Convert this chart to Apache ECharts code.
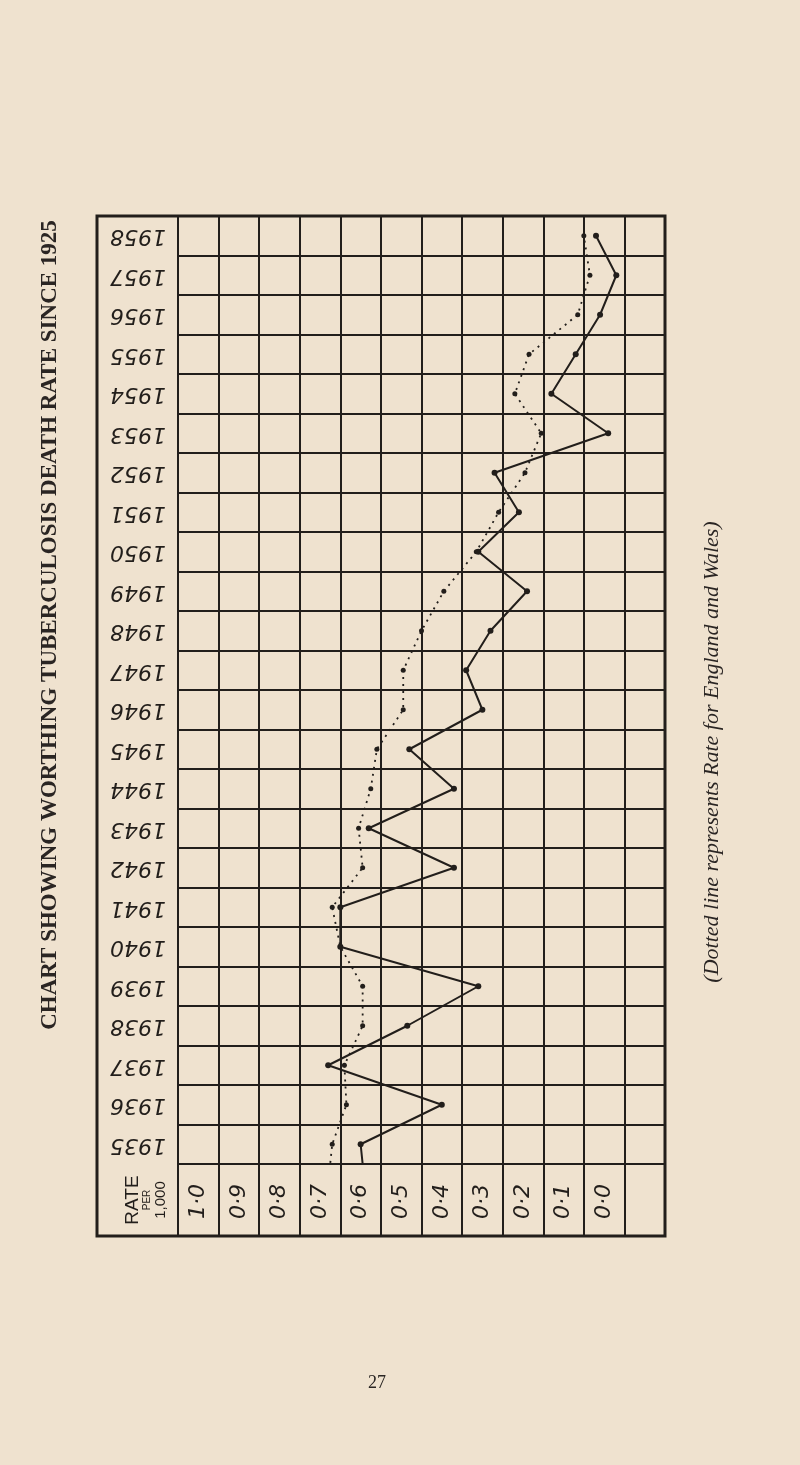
<!DOCTYPE html>
<html>
<head>
<meta charset="utf-8">
<script src="https://cdn.jsdelivr.net/npm/echarts@6/dist/echarts.min.js"></script>
<style>
html,body{margin:0;padding:0;background:#efe2cf;}
#c{width:800px;height:1465px;}
</style>
</head>
<body>
<div id="c"></div>
<script>
// ---- data ----
// 1934 is only visible as the stub of the line leaving the bottom row
const years = [1934,1935,1936,1937,1938,1939,1940,1941,1942,1943,1944,1945,1946,1947,1948,1949,1950,1951,1952,1953,1954,1955,1956,1957,1958];
const worthingRate = [0.64,0.65,0.45,0.73,0.535,0.36,0.70,0.70,0.42,0.63,0.42,0.53,0.35,0.39,0.33,0.24,0.36,0.26,0.32,0.04,0.18,0.12,0.06,0.02,0.07];
const englandWalesRate = [0.73,0.72,0.685,0.69,0.645,0.645,0.70,0.72,0.645,0.655,0.625,0.61,0.545,0.545,0.50,0.445,0.365,0.31,0.245,0.205,0.27,0.235,0.115,0.085,0.10];
const yearLabels = ['1935','1936','1937','1938','1939','1940','1941','1942','1943','1944','1945','1946','1947','1948','1949','1950','1951','1952','1953','1954','1955','1956','1957','1958'];
const rateLabels = ['1·0','0·9','0·8','0·7','0·6','0·5','0·4','0·3','0·2','0·1','0·0',''];
const titleText = 'CHART SHOWING WORTHING TUBERCULOSIS DEATH RATE SINCE 1925';
const noteText = '(Dotted line represents Rate for England and Wales)';
const cornerText = ['RATE','PER','1,000'];
const pageNumber = '27';

// ---- styling ----
const INK = '#221e1b';
const firstYear = 1935;
function toPoints(rates){
  return rates.map((r,i)=>{
    const y = years[i] - firstYear + 0.5;
    return years[i] < firstYear ? {value:[r,y], symbol:'none'} : [r,y];
  });
}
const chart = echarts.init(document.getElementById('c'), null, {renderer:'canvas'});
const handFont = '"DejaVu Sans"';
chart.setOption({
  animation:false,
  backgroundColor:'#efe2cf',
  grid:[
    {left:178, top:216, width:487, height:948, show:false},
    {left:97, top:216, width:568, height:1020, show:true, borderColor:INK, borderWidth:3, backgroundColor:'transparent'}
  ],
  xAxis:[
    {type:'value', gridIndex:0, inverse:true, min:-0.1, max:1.1, interval:0.1, position:'bottom',
     axisLine:{show:true, lineStyle:{color:INK,width:2}},
     axisTick:{show:true, length:72, lineStyle:{color:INK,width:2}},
     axisLabel:{show:false},
     splitLine:{show:true, lineStyle:{color:INK,width:2}}},
    {type:'category', gridIndex:0, data:rateLabels, position:'bottom', boundaryGap:true,
     axisLine:{show:false}, axisTick:{show:false}, splitLine:{show:false},
     axisLabel:{show:true, interval:0, rotate:90, margin:20, fontSize:22, fontStyle:'italic', fontFamily:handFont, color:INK}},
    {type:'value', gridIndex:1, show:false}
  ],
  yAxis:[
    {type:'value', gridIndex:0, min:0, max:24, interval:1,
     axisLine:{show:true, lineStyle:{color:INK,width:2}},
     axisTick:{show:true, length:81, lineStyle:{color:INK,width:2}},
     axisLabel:{show:false},
     splitLine:{show:true, lineStyle:{color:INK,width:2}}},
    {type:'category', gridIndex:0, data:yearLabels, position:'left', boundaryGap:true,
     axisLine:{show:false}, axisTick:{show:false}, splitLine:{show:false},
     axisLabel:{show:true, interval:0, rotate:180, margin:12, fontSize:22, fontStyle:'italic', fontFamily:handFont, color:INK}},
    {type:'value', gridIndex:1, show:false}
  ],
  series:[
    {name:'Worthing', type:'line', xAxisIndex:0, yAxisIndex:0, data:toPoints(worthingRate),
     symbol:'circle', symbolSize:6, clip:true, silent:true, z:5,
     lineStyle:{color:INK, width:2}, itemStyle:{color:INK}},
    {name:'England and Wales', type:'line', xAxisIndex:0, yAxisIndex:0, data:toPoints(englandWalesRate),
     symbol:'circle', symbolSize:5, clip:true, silent:true, z:4,
     lineStyle:{color:INK, width:1.8, type:[2,5]}, itemStyle:{color:INK}}
  ],
  graphic:[
    {type:'text', x:50, y:625, rotation:Math.PI/2,
     style:{text:titleText, font:'bold 23px "Liberation Serif"', fill:'#2a2523', align:'center', verticalAlign:'middle'}},
    {type:'text', x:712, y:752, rotation:Math.PI/2,
     style:{text:noteText, font:'italic 22px "Liberation Serif"', fill:'#2a2523', align:'center', verticalAlign:'middle'}},
    {type:'text', x:146, y:1200, rotation:Math.PI/2,
     style:{text:'{a|'+cornerText[0]+'}\n{b|'+cornerText[1]+'}\n{c|'+cornerText[2]+'}', align:'center', verticalAlign:'middle', fill:INK,
       rich:{a:{fontSize:19, fontFamily:'"Liberation Sans"', lineHeight:19, fill:INK},
             b:{fontSize:10, fontFamily:'"Liberation Sans"', lineHeight:11, fill:INK},
             c:{fontSize:15, fontFamily:'"Liberation Sans"', lineHeight:16, fill:INK}}}},
    {type:'text', x:377, y:1383,
     style:{text:pageNumber, font:'18px "Liberation Serif"', fill:'#2a2523', align:'center', verticalAlign:'middle'}}
  ]
});
</script>
</body>
</html>
